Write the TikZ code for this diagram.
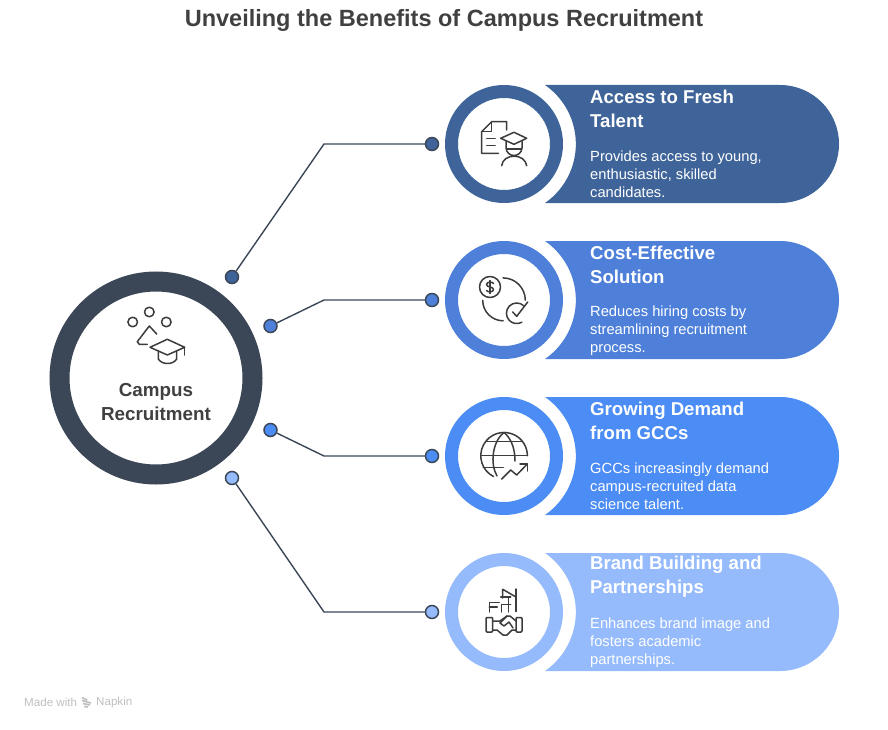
\documentclass[tikz,border=0pt]{standalone}
\usepackage{fontspec}
\setmainfont{Liberation Sans}
\definecolor{hubdark}{HTML}{3B4657}
\definecolor{bandA}{HTML}{3F6499}
\definecolor{bandB}{HTML}{4E80DA}
\definecolor{bandC}{HTML}{4B8CF5}
\definecolor{bandD}{HTML}{96BBFC}
\definecolor{inktext}{HTML}{404040}
\definecolor{iconink}{HTML}{3C3C3C}
\tikzset{
    ringnode/.style={circle, draw=#1, fill=white, line width=13pt, minimum size=105pt, inner sep=0pt},
    dotnode/.style={circle, draw=hubdark, fill=#1, line width=1.5pt, minimum size=13pt, inner sep=0pt},
    wire/.style={draw=hubdark, line width=1.4pt},
    iconline/.style={draw=iconink, line width=1.5pt, line cap=round, line join=round},
}
\begin{document}
\begin{tikzpicture}[x=1pt,y=-1pt]
    \useasboundingbox (0,0) rectangle (888,730);
    \node[font=\fontsize{23.5}{28}\selectfont\bfseries, text=inktext] (title) at (444,20) {Unveiling the Benefits of Campus Recruitment};
    % hub
    \node[circle, draw=hubdark, fill=white, line width=20pt, minimum size=193pt, inner sep=0pt] (hub) at (156,378) {};
    \node[font=\fontsize{18.8}{24}\selectfont\bfseries, text=inktext, align=center] (hublabel) at (156,402.5) {Campus\\Recruitment};
    % bands
    \foreach \name/\ypos/\col/\itemhead/\itembody in {
        A/144/bandA/{Access to Fresh\\Talent}/{Provides access to young,\\enthusiastic, skilled\\candidates.},
        B/300/bandB/{Cost-Effective\\Solution}/{Reduces hiring costs by\\streamlining recruitment\\process.},
        C/456/bandC/{Growing Demand\\from GCCs}/{GCCs increasingly demand\\campus-recruited data\\science talent.},
        D/612/bandD/{Brand Building and\\Partnerships}/{Enhances brand image and\\fosters academic\\partnerships.}}
    {
        \fill[\col] (545,\ypos-59) -- (780,\ypos-59) arc[start angle=-90, end angle=90, radius=59]
            -- (545,\ypos+59) arc[start angle=55.2, end angle=-55.2, radius=71.85] -- cycle;
        \node[ringnode=\col] (ring\name) at (504,\ypos) {};
        \node[dotnode=\col] (end\name) at (432,\ypos) {};
        \coordinate (elbow\name) at (324,\ypos);
        \node[anchor=west, inner sep=0pt, align=left, text=white, font=\fontsize{18.6}{24}\selectfont\bfseries] (head\name) at (590,\ypos-35.5) {\itemhead};
        \node[anchor=west, inner sep=0pt, align=left, text=white, font=\fontsize{14.7}{18}\selectfont] (body\name) at (590,\ypos+30.5) {\itembody};
    }
    % hub dots and wires
    \node[dotnode=bandA] (startA) at (232,277) {};
    \node[dotnode=bandB] (startB) at (270.5,326) {};
    \node[dotnode=bandC] (startC) at (270.5,430) {};
    \node[dotnode=bandD] (startD) at (232,478) {};
    \foreach \name in {A,B,C,D}
        \draw[wire] (start\name) -- (elbow\name) -- (end\name);
    % hub icon
    \draw[iconline] (132.7,322) circle[radius=4.8] (149.3,312) circle[radius=4.8] (166.3,322) circle[radius=4.8];
    \draw[iconline] (156.7,334) -- (149.3,326) -- (137.3,341.7) -- (139.3,344.3) -- (147.3,344.3);
    \draw[iconline] (150,347.3) -- (167.3,339.3) -- (184.7,347.3) -- (167.3,355) -- cycle;
    \draw[iconline] (158.3,350.7) -- (158.3,359) .. controls (162,365) and (173,365) .. (176.7,359) -- (176.7,350.7);
    \draw[iconline] (184.7,347.3) -- (184.7,355);
    % icon A
    \draw[iconline] (498.3,153.3) -- (481.7,153.3) -- (481.7,131.7) -- (491.7,121.7) -- (506.7,121.7) -- (506.7,130);
    \draw[iconline] (491.7,121.7) -- (491.7,131.7) -- (481.7,131.7);
    \draw[iconline] (486.7,138.3) -- (495,138.3) (486.7,145.7) -- (495,145.7);
    \draw[iconline] (500.7,138.3) -- (514,132.3) -- (526.7,138.3) -- (514,144.3) -- cycle;
    \draw[iconline] (506,141.5) -- (506,148) .. controls (507,158) and (521,158) .. (522,148) -- (522,141.5);
    \draw[iconline] (507,149) -- (521,149);
    \draw[iconline] (501.7,165.7) .. controls (503,153) and (525,153) .. (526.7,165.7);
    % icon B
    \draw[iconline] (490,287) circle[radius=10.5];
    \draw[iconline] (493.5,283.5) .. controls (492.5,281.5) and (486.5,281.5) .. (486.5,284.5) .. controls (486.5,287.5) and (493.5,286.5) .. (493.5,289.5) .. controls (493.5,292.5) and (487.5,292.5) .. (486.5,290.5);
    \draw[iconline] (490,280.5) -- (490,293.5);
    \draw[iconline] (503,277.9) arc[start angle=-90, end angle=0, radius=22.3];
    \draw[iconline] (482.7,300.3) arc[start angle=180, end angle=90, radius=20.5];
    \draw[iconline] (524,306) arc[start angle=-45, end angle=-300, radius=10.3];
    \draw[iconline] (512.7,312) -- (516.7,316.3) -- (527.7,302);
    % icon C
    \draw[iconline] (493.5,476.5) arc[start angle=117, end angle=360, radius=23.3];
    \draw[iconline] (481,455.7) -- (527.3,455.7);
    \draw[iconline] (486.7,441.7) -- (521.7,441.7) (483.3,467.3) -- (503.3,467.3);
    \draw[iconline] (504,432.4) .. controls (492,442) and (490,464) .. (497,476);
    \draw[iconline] (504,432.4) .. controls (513,440) and (515,452) .. (515,461);
    \draw[iconline] (501.7,479) -- (510.7,470) -- (516.7,475) -- (527.3,464);
    \draw[iconline] (520,464) -- (527.3,464) -- (527.3,471);
    % icon D
    \draw[iconline] (489.3,612) -- (489.3,602.7) -- (499.3,602.7) (489.3,607) -- (497.3,607);
    \draw[iconline] (501.7,604.7) -- (501.7,612);
    \draw[iconline] (502.7,598) -- (502.7,589.3) -- (516,597);
    \draw[iconline] (516,589) -- (516,611.5);
    \draw[iconline] (508.3,598) -- (508.3,612) (500.7,597) -- (510.7,597) (501.7,604.7) -- (510.7,604.7);
    \draw[iconline, rounded corners=1pt] (486,617.5) rectangle (492.7,632);
    \draw[iconline, rounded corners=1pt] (516,617.5) rectangle (522,632);
    \draw[iconline] (492.7,621) -- (500,621) -- (507,616) -- (510,616) -- (516,621);
    \draw[iconline] (492.7,630) -- (497,630) -- (503,635) -- (507,635) -- (512,630) -- (516,630);
    \draw[iconline] (507,616) -- (500,623) -- (504,626) -- (509,622) -- (513,628);
    % footer
    \node[anchor=west, inner sep=0pt, text=black!25, font=\fontsize{11.6}{13}\selectfont] (madewith) at (24,702.5) {Made with};
    \node[anchor=west, inner sep=0pt, text=black!25, font=\fontsize{11.6}{13}\selectfont] (napkin) at (96,702.5) {Napkin};
    \draw[black!25, line width=1.6pt] (82,697.5) -- (87,700) (82,700.5) -- (91,703) (83,703.5) -- (90,705) (84,706.5) -- (88,707);
\end{tikzpicture}
\end{document}
